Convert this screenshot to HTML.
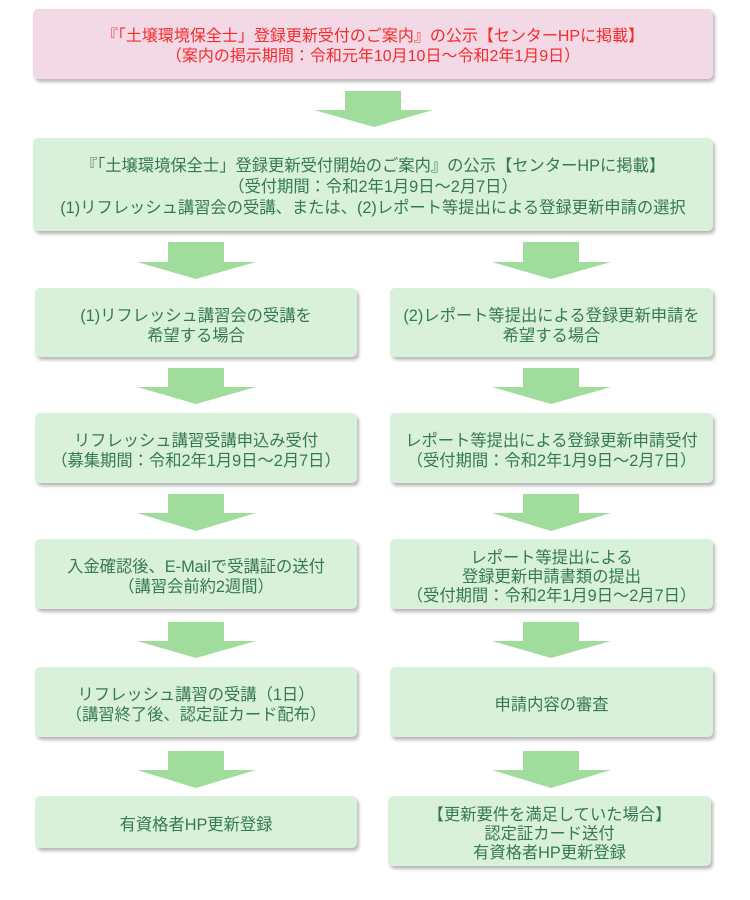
<!DOCTYPE html>
<html><head><meta charset="utf-8">
<style>
html,body{margin:0;padding:0;background:#fff;}
body{width:750px;height:900px;position:relative;overflow:hidden;font-family:"Liberation Sans","Noto Sans CJK JP",sans-serif;}
.b{position:absolute;box-sizing:border-box;border-radius:5px;background:#d9f1da;color:#35794e;font-size:16.3px;line-height:20px;text-align:center;display:flex;align-items:center;justify-content:center;box-shadow:2px 3px 3px rgba(0,0,0,0.28);white-space:nowrap;}
.b>div{position:relative;top:3px;}
.pink{background:#f3d9e6;color:#f52a2a;}
svg{position:absolute;left:0;top:0;}
</style></head><body>
<svg width="750" height="900">
<g fill="#a0dc9b">
<polygon points="345,91 401,91 401,110 433,110 374,127 314,110 345,110"/>
<polygon points="168,242 224,242 224,262 256,262 196,279 137,262 168,262"/>
<polygon points="523,242 579,242 579,262 611,262 551,279 492,262 523,262"/>
<polygon points="168,368 224,368 224,387 256,387 196,404 137,387 168,387"/>
<polygon points="523,368 579,368 579,387 611,387 551,404 492,387 523,387"/>
<polygon points="168,494 224,494 224,513 256,513 196,531 137,513 168,513"/>
<polygon points="523,494 579,494 579,513 611,513 551,531 492,513 523,513"/>
<polygon points="168,622 224,622 224,641 256,641 196,658 137,641 168,641"/>
<polygon points="523,622 579,622 579,641 611,641 551,658 492,641 523,641"/>
<polygon points="168,751 224,751 224,770 256,770 196,788 137,770 168,770"/>
<polygon points="523,751 579,751 579,770 611,770 551,788 492,770 523,770"/>
</g>
</svg>
<div class="b pink" style="left:33px;top:9px;width:680px;height:70px;font-size:16px;"><div>『「土壌環境保全士」登録更新受付のご案内』の公示【センターHPに掲載】<br>（案内の掲示期間：令和元年10月10日～令和2年1月9日）</div></div>
<div class="b" style="left:33px;top:138px;width:680px;height:93px;line-height:21px;"><div>『「土壌環境保全士」登録更新受付開始のご案内』の公示【センターHPに掲載】<br>（受付期間：令和2年1月9日～2月7日）<br>(1)リフレッシュ講習会の受講、または、(2)レポート等提出による登録更新申請の選択</div></div>

<div class="b" style="left:35px;top:288px;width:322px;height:69px;"><div>(1)リフレッシュ講習会の受講を<br>希望する場合</div></div>
<div class="b" style="left:390px;top:288px;width:323px;height:69px;"><div>(2)レポート等提出による登録更新申請を<br>希望する場合</div></div>

<div class="b" style="left:35px;top:413px;width:322px;height:70px;"><div>リフレッシュ講習受講申込み受付<br>（募集期間：令和2年1月9日～2月7日）</div></div>
<div class="b" style="left:390px;top:413px;width:323px;height:70px;"><div>レポート等提出による登録更新申請受付<br>（受付期間：令和2年1月9日～2月7日）</div></div>

<div class="b" style="left:35px;top:539px;width:322px;height:70px;"><div>入金確認後、E-Mailで受講証の送付<br>（講習会前約2週間）</div></div>
<div class="b" style="left:390px;top:539px;width:323px;height:70px;line-height:19px;"><div>レポート等提出による<br>登録更新申請書類の提出<br>（受付期間：令和2年1月9日～2月7日）</div></div>

<div class="b" style="left:35px;top:667px;width:322px;height:70px;"><div>リフレッシュ講習の受講（1日）<br>（講習終了後、認定証カード配布）</div></div>
<div class="b" style="left:390px;top:667px;width:323px;height:70px;"><div>申請内容の審査</div></div>

<div class="b" style="left:35px;top:796px;width:322px;height:52px;"><div>有資格者HP更新登録</div></div>
<div class="b" style="left:388px;top:796px;width:323px;height:70px;line-height:19px;"><div>【更新要件を満足していた場合】<br>認定証カード送付<br>有資格者HP更新登録</div></div>
</body></html>
